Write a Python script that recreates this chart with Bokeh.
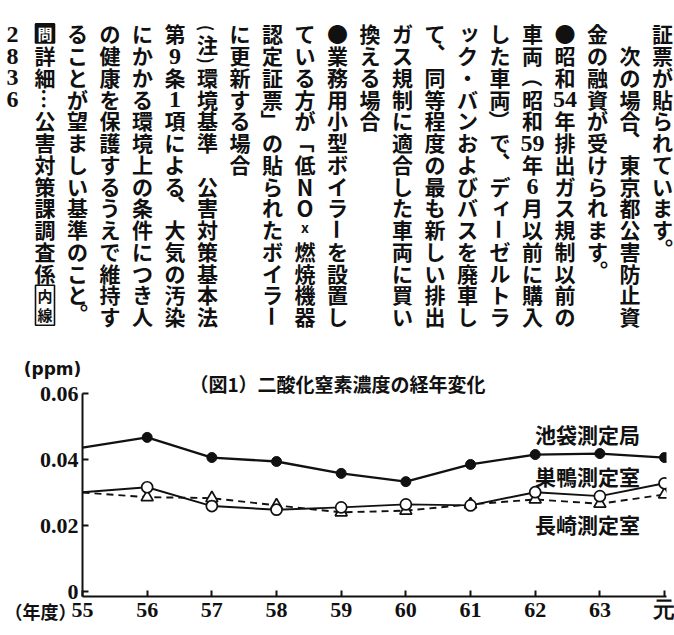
import math
from bokeh.plotting import figure
from bokeh.models import ColumnDataSource, Label, FixedTicker, Range1d, GridBox
from bokeh.embed import file_html
from bokeh.resources import INLINE

# ---------------- data ----------------
years = ["55", "56", "57", "58", "59", "60", "61", "62", "63", "元"]
ikebukuro = [0.0436, 0.0467, 0.0406, 0.0394, 0.0358, 0.0333, 0.0385, 0.0415, 0.0418, 0.0406]
sugamo = [0.0301, 0.0316, 0.0259, 0.0248, 0.0255, 0.0264, 0.0261, 0.0301, 0.0289, 0.0328]
nagasaki = [0.0300, 0.0286, 0.0283, 0.0261, 0.0240, 0.0245, 0.0264, 0.0279, 0.0266, 0.0294]
series_names = ["池袋測定局", "巣鴨測定室", "長崎測定室"]
chart_title = "（図1）二酸化窒素濃度の経年変化"
y_unit = "(ppm)"
x_unit = "（年度）"
y_ticks = [0, 0.02, 0.04, 0.06]
y_tick_labels = ["0", "0.02", "0.04", "0.06"]

# vertical article columns, right to left
columns_text = [
    "証票が貼られています。",
    "　次の場合、東京都公害防止資",
    "金の融資が受けられます。",
    "●昭和54年排出ガス規制以前の",
    "車両（昭和59年6月以前に購入",
    "した車両）で、ディーゼルトラ",
    "ック・バンおよびバスを廃車し",
    "て、同等程度の最も新しい排出",
    "ガス規制に適合した車両に買い",
    "換える場合",
    "●業務用小型ボイラーを設置し",
    "ている方が「低NOx燃焼機器",
    "認定証票」の貼られたボイラー",
    "に更新する場合",
    "（注）環境基準　公害対策基本法",
    "第9条1項による、大気の汚染",
    "にかかる環境上の条件につき人",
    "の健康を保護するうえで維持す",
    "ることが望ましい基準のこと。",
    "問詳細…公害対策課調査係内線",
    "2836",
]

JP = "Noto Sans CJK JP"
NARROW = "Liberation Sans Narrow"
INK = "#111111"

W, H = 674, 635

# ================= chart (bottom layer) =================
X0, X1 = 0.0, 9.03
Y0, Y1 = -0.0015, 0.06
FRAME_L, FRAME_R, FRAME_T, FRAME_B = 82, 666, 393, 596

chart = figure(width=W, height=H, x_range=Range1d(X0, X1), y_range=Range1d(Y0, Y1),
               output_backend="svg", toolbar_location=None,
               min_border_left=FRAME_L, min_border_right=W - FRAME_R,
               min_border_top=FRAME_T, min_border_bottom=H - FRAME_B)
chart.outline_line_color = None
chart.grid.visible = False
chart.background_fill_color = "white"
chart.border_fill_color = "white"


def xd(px):
    return X0 + (px - FRAME_L) / (FRAME_R - FRAME_L) * (X1 - X0)


def yd(py):
    return Y0 + (FRAME_B - py) / (FRAME_B - FRAME_T) * (Y1 - Y0)


xs = list(range(len(years)))

chart.line(xs, ikebukuro, line_color=INK, line_width=2.3)
chart.line(xs, sugamo, line_color=INK, line_width=1.9)
chart.line(xs, nagasaki, line_color=INK, line_width=1.9, line_dash="7 5")

chart.scatter(xs[1:], nagasaki[1:], marker="triangle", size=12, fill_color="white",
              line_color=INK, line_width=1.7)
chart.scatter(xs[1:], sugamo[1:], marker="circle", size=11, fill_color="white",
              line_color=INK, line_width=1.7)
chart.scatter(xs[1:], ikebukuro[1:], marker="circle", size=10, fill_color=INK,
              line_color=INK, line_width=1)

for ax in (chart.xaxis, chart.yaxis):
    ax.axis_line_width = 2
    ax.axis_line_color = INK
    ax.major_tick_line_width = 2
    ax.major_tick_line_color = INK
    ax.minor_tick_line_color = None
    ax.major_tick_out = 0
    ax.major_tick_in = 6
    ax.major_label_text_font = NARROW
    ax.major_label_text_font_style = "bold"
    ax.major_label_text_color = INK

chart.xaxis.ticker = FixedTicker(ticks=xs)
chart.xaxis.major_label_overrides = {i: lab for i, lab in enumerate(years)}
chart.xaxis.major_label_text_font_size = "22px"
chart.xaxis.major_label_standoff = 0

chart.yaxis.ticker = FixedTicker(ticks=y_ticks)
chart.yaxis.major_label_overrides = {t: lab for t, lab in zip(y_ticks, y_tick_labels)}
chart.yaxis.major_label_text_font_size = "22px"
chart.yaxis.major_label_standoff = 4

for name, py in zip(series_names, [433, 475, 523]):
    chart.add_layout(Label(x=xd(587), y=yd(py), text=name, text_align="center",
                           text_baseline="middle", text_font=JP, text_font_size="21px",
                           text_font_style="bold", text_color=INK))

# ================= text layer (top, transparent) =================
txt = figure(width=W, height=H, x_range=Range1d(0, W), y_range=Range1d(H, 0),
             output_backend="svg", toolbar_location=None,
             x_axis_location=None, y_axis_location=None, min_border=0)
txt.outline_line_color = None
txt.grid.visible = False
txt.background_fill_alpha = 0
txt.border_fill_alpha = 0

COL_X0 = 662.0
COL_DX = 32.5
CELL = 21.75
TOP_Y = 22.0
FS = 21

ROTATE = set("（）「」ー…")
PUNCT = set("、。")


def tokenize(s):
    out = []
    i = 0
    while i < len(s):
        if s.startswith("（注）", i):
            out += [("(", 0.5, "hparen"), ("注", 1.0, "char"), (")", 0.5, "hparen")]
            i += 3
            continue
        if s.startswith("内線", i) and i == len(s) - 2:
            out.append(("内線", 2.0, "boxed"))
            i += 2
            continue
        if i == 0 and s[i] == "問":
            out.append(("問", 1.0, "icon"))
            i += 1
            continue
        if (s[i].isdigit() and s[i + 1:i + 2].isdigit() and not s[i + 2:i + 3].isdigit()
                and not (i > 0 and s[i - 1].isdigit())):
            out.append((s[i:i + 2], 1.0, "tcy"))
            i += 2
            continue
        if s[i] == "x":
            out.append(("x", 1.0, "small"))
            i += 1
            continue
        out.append((s[i], 1.0, "char"))
        i += 1
    return out


tx, ty, tt, ta, tsz, tcol, tfont = [], [], [], [], [], [], []
bx, by, bw, bh, bfill = [], [], [], [], []


def put(x, y, t, size, ang=0.0, color=INK, font=JP):
    tx.append(x); ty.append(y); tt.append(t); ta.append(ang); tsz.append(size)
    tcol.append(color); tfont.append(font)


for k, col in enumerate(columns_text):
    cx = COL_X0 - k * COL_DX
    pos = 0.0
    for text, adv, kind in tokenize(col):
        cy = TOP_Y + (pos + adv / 2.0) * CELL
        if kind == "icon":
            bx.append(cx); by.append(cy); bw.append(19); bh.append(19); bfill.append(INK)
            put(cx, cy, text, "15px", color="white")
        elif kind == "boxed":
            bx.append(cx); by.append(cy); bw.append(19); bh.append(40); bfill.append("white")
            for j, ch in enumerate(text):
                put(cx, cy - 9.5 + 19 * j, ch, "15px")
        elif kind == "hparen":
            put(cx, cy, text, "17px", -math.pi / 2)
        elif kind == "tcy":
            put(cx, cy + 1, text, "24px", font=NARROW)
        elif kind == "small":
            put(cx, cy - 2, text, "14px")
        else:
            ang = 0.0
            if text in ROTATE:
                ang = -math.pi / 2
            elif text in PUNCT:
                ang = math.pi  # moves the mark to the upper right of its cell, as in vertical text
            x_, y_ = cx, cy
            if text in "ッィ":
                x_ += 2
                y_ -= 2
            if text.isdigit():
                put(x_, y_ + 1, text, "24px", ang, font=NARROW)
            else:
                put(x_, y_, text, "22px" if text in "NO" else f"{FS}px", ang)
        pos += adv

txt.rect(x="x", y="y", width="w", height="h", fill_color="fill", line_color=INK, line_width=1.6,
         source=ColumnDataSource(dict(x=bx, y=by, w=bw, h=bh, fill=bfill)))
txt.text(x="x", y="y", text="t", angle="a", text_font_size="s", text_color="c",
         text_font="f", text_align="center", text_baseline="middle", text_font_style="bold",
         source=ColumnDataSource(dict(x=tx, y=ty, t=tt, a=ta, s=tsz, c=tcol, f=tfont)))

# chart captions (title, units)
cap = ColumnDataSource(dict(x=[337, 52, 40], y=[383, 368, 610],
                            t=[chart_title, y_unit, x_unit],
                            s=["19px", "17px", "18px"],
                            f=[JP, "DejaVu Sans", JP]))
txt.text(x="x", y="y", text="t", text_font_size="s", text_font="f", text_color=INK,
         text_align="center", text_baseline="middle", text_font_style="bold", source=cap)

for f in (chart, txt):
    if "frame_align" in f.properties():
        f.frame_align = False

layout = GridBox(children=[(chart, 0, 0), (txt, 0, 0)])
open("out.html", "w").write(file_html(layout, INLINE))
